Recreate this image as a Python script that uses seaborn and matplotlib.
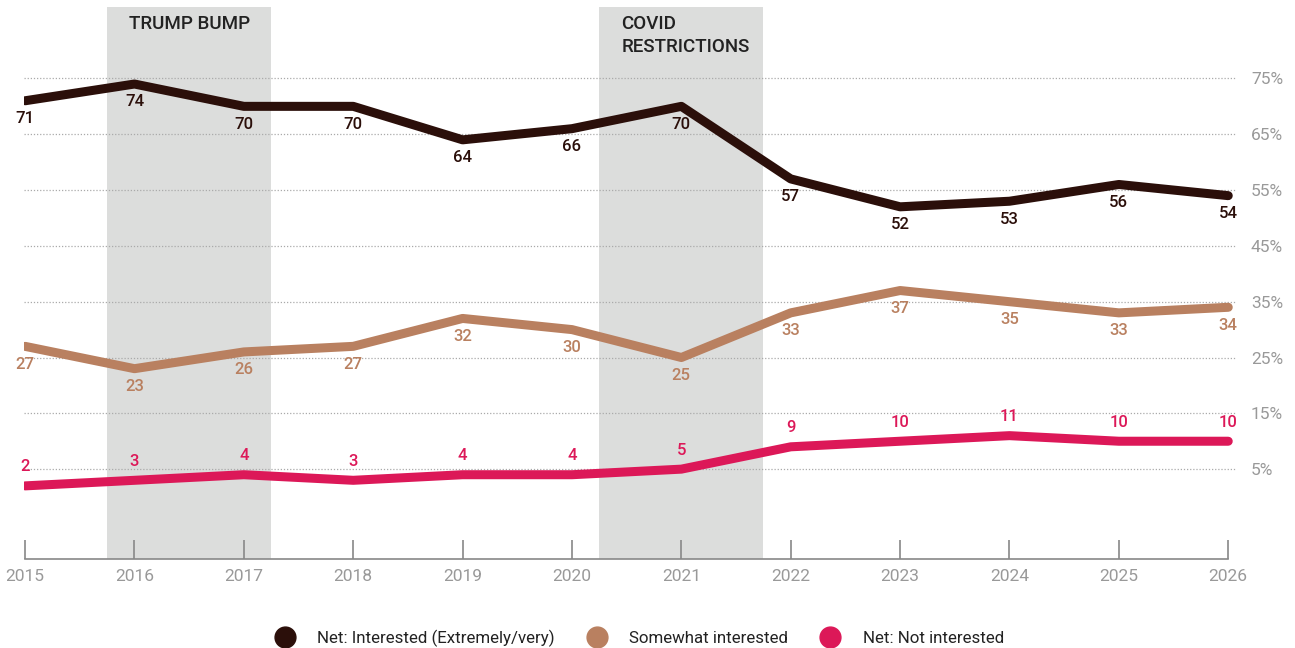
import pandas as pd
import matplotlib.pyplot as plt
from matplotlib.lines import Line2D
import seaborn as sns

# Datos del gráfico
years = [2015, 2016, 2017, 2018, 2019, 2020, 2021, 2022, 2023, 2024, 2025, 2026]
interested = [71, 74, 70, 70, 64, 66, 70, 57, 52, 53, 56, 54]
somewhat = [27, 23, 26, 27, 32, 30, 25, 33, 37, 35, 33, 34]
not_interested = [2, 3, 4, 3, 4, 4, 5, 9, 10, 11, 10, 10]

series_names = ["Net: Interested (Extremely/very)", "Somewhat interested", "Net: Not interested"]
series_colors = ["#2b0f0a", "#b98060", "#dc1858"]
y_ticks = [75, 65, 55, 45, 35, 25, 15, 5]
periods = [(2015.75, 2017.25, "TRUMP BUMP"), (2020.25, 2021.75, "COVID\nRESTRICTIONS")]

sns.set_style("white")
plt.rcParams['font.family'] = ['Roboto', 'DejaVu Sans']

df = pd.DataFrame({
    "year": years * 3,
    "value": interested + somewhat + not_interested,
    "series": [series_names[0]] * 12 + [series_names[1]] * 12 + [series_names[2]] * 12,
})

fig = plt.figure(figsize=(12.95, 6.48), dpi=100)
ax = fig.add_axes([24 / 1295, 89 / 648, 1213 / 1295, 552 / 648])

# Zonas sombreadas
for x0, x1, label in periods:
    ax.axvspan(x0, x1, color="#dcdddc", zorder=0, lw=0)
    ax.text(x0 + 0.2, 86.3, label, ha="left", va="top", fontsize=13.5,
            fontweight="medium", color="#222222", linespacing=1.3)

sns.lineplot(data=df, x="year", y="value", hue="series", palette=series_colors,
             hue_order=series_names, linewidth=6.5, ax=ax, legend=False,
             solid_capstyle="round", solid_joinstyle="round", zorder=3)

# Etiquetas de valores
for vals, col, off in [(interested, series_colors[0], -3.2),
                       (somewhat, series_colors[1], -3.2),
                       (not_interested, series_colors[2], 3.4)]:
    for x, v in zip(years, vals):
        ax.text(x, v + off, str(v), ha="center", va="center", fontsize=12,
                fontweight="medium", color=col, zorder=4)

ax.set_xlim(2014.99, 2026.08)
ax.set_ylim(-11.1, 87.8)
ax.set_yticks(y_ticks)
ax.set_yticklabels([f"{t}%" for t in y_ticks])
ax.yaxis.tick_right()
ax.grid(axis="y", color="#aaaaaa", linestyle=(0, (1, 1.5)), linewidth=0.9)
ax.grid(axis="x", visible=False)
ax.set_xticks(years)
ax.set_xticklabels([str(y) for y in years])
ax.tick_params(axis="x", bottom=True, direction="in", length=13.5, width=1.2, color="#888888",
               labelcolor="#999999", labelsize=12.5, pad=7)
ax.tick_params(axis="y", length=0, labelcolor="#999999", labelsize=12.5, pad=10)
ax.set_xlabel("")
ax.set_ylabel("")
for s in ["top", "left", "right"]:
    ax.spines[s].set_visible(False)
ax.spines["bottom"].set_bounds(2015, 2026)
ax.spines["bottom"].set_color("#888888")
ax.spines["bottom"].set_linewidth(1.2)

handles = [Line2D([], [], marker="o", linestyle="", markersize=15, color=c) for c in series_colors]
fig.legend(handles, series_names, loc="lower center", ncol=3, frameon=False,
           bbox_to_anchor=(0.491, -0.022), fontsize=12.2, handletextpad=0.9,
           columnspacing=1.5, labelcolor="#222222")

fig.savefig("out.png", dpi=100)
